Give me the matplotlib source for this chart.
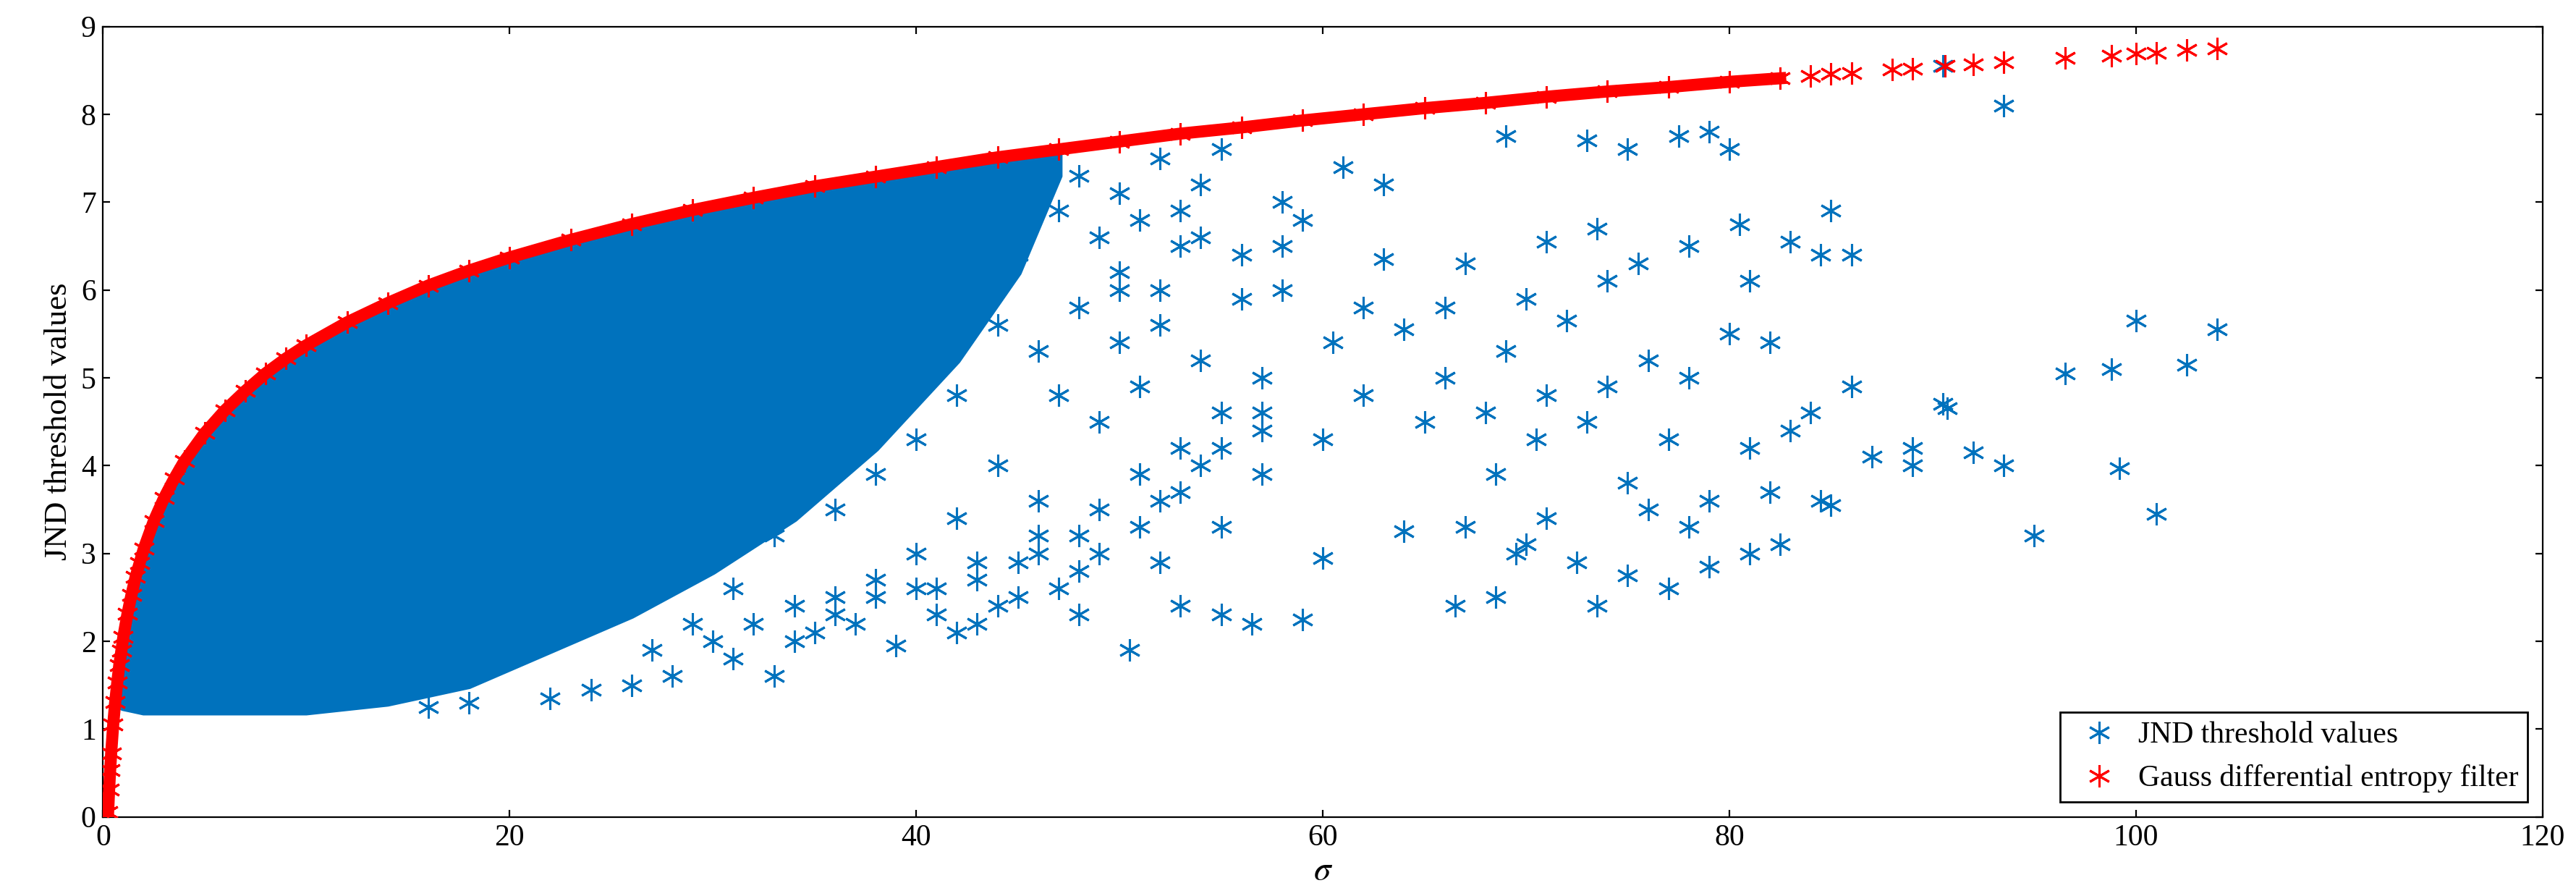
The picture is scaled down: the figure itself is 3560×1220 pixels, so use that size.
import matplotlib
matplotlib.use("Agg")
import matplotlib.pyplot as plt
import numpy as np

plt.rcParams['font.family'] = ['Liberation Serif', 'DejaVu Serif']
plt.rcParams['mathtext.fontset'] = 'stix'

# Red: Gauss differential entropy filter
red_sigma = [0.25,0.3,0.35,0.4,0.5,0.6,0.7,0.8,0.9,1.0,1.2,1.4,1.6,1.8,2.0,2.5,3,3.5,4,5,6,7,8,9,10,12,14,16,18,20,
             23,26,29,32,35,38,41,44,47,50,53,56,59,62,65,68,71,74,77,80,82.5,84,85,86,88,89,90.6,92,93.5,96.5,98.8,100,101,102.5,104]
red_y = [0.05,0.31,0.53,0.72,1.05,1.31,1.53,1.73,1.89,2.05,2.31,2.53,2.73,2.89,3.05,3.37,3.63,3.85,4.05,4.37,4.63,4.85,5.05,5.22,5.37,5.63,5.85,6.05,6.22,6.37,
         6.57,6.75,6.91,7.05,7.18,7.29,7.40,7.51,7.60,7.69,7.78,7.85,7.93,8.00,8.07,8.13,8.20,8.26,8.31,8.37,8.41,8.44,8.46,8.47,8.51,8.52,8.55,8.57,8.59,8.64,8.67,8.69,8.70,8.73,8.75]

# Blue dense (solid-looking) region: lower edge, upper edge follows red
dense_lo_sigma = [0.5,1,2,5,10,14,18,22,26,30,34,38,42,45,47]
dense_lo_y = [1.3,1.25,1.2,1.2,1.2,1.3,1.5,1.9,2.3,2.8,3.4,4.2,5.2,6.2,7.3]

# Blue sparse points
blue_sigma = [33,50.5,39,59,56.5,55,60,66.5,68.5,73.5,77,72.5,75,70,69.5,79,81,82.5,84.5,85,89,89,90.5,90.7,92,93.5,95,96.5,98.8,99.2,100,101,102.5,104,
              93.5,90.5,85,86,84.5,83,80.5,81,78,79,80,77.5,75,73,73.5,74,75.5,71,69,70,67,64,63,65,66,68,70.5,72,74,76,78,80,82,83,84,81,79,76,73,71,68.5,67,64,62,60.5,58,57,
              61,63,59,55,58,62,57,55,53,52,48,45,43,41,46,54,56,50,53,60,66,69,71,75,78,82,86,87,77,
              36,38,42,44,47,49,51,34,37,40,43,46,48,52,54,57,31,35,28,26,24,22,18,16,
              44,46,48,50,52,54,49,51,53,47,45,43,41,39,37,35,33,31,29,27,
              48,50,52,54,56,47,49,51,53,55,44,46,42,40,38,36,34,32,30,
              49,51,53,55,57,58,50,52,46,44,42,40,38,36,48,45,43,41]
blue_y = [1.6,1.9,1.95,2.25,2.2,2.3,2.95,2.4,2.5,2.4,2.6,2.9,2.75,3.1,3.0,2.85,3.0,3.1,3.6,3.55,4.0,4.2,4.7,4.65,4.15,4.0,3.2,5.05,5.1,3.97,5.65,3.45,5.15,5.55,
          8.1,8.55,6.9,6.4,6.4,6.55,6.75,6.1,6.5,7.8,7.6,7.75,7.6,7.7,6.7,6.1,6.3,6.55,7.75,5.9,6.3,5.55,6.35,4.5,5.0,4.6,4.3,5.65,4.9,5.2,5.0,5.5,5.4,4.4,4.6,4.2,3.6,3.5,4.5,3.4,3.9,3.3,3.25,4.8,5.4,6.0,4.6,
          7.4,7.2,6.8,7.6,7.0,5.8,3.9,3.3,2.4,2.9,2.3,2.5,2.2,2.3,3.0,5.2,6.4,6.0,6.9,4.3,5.8,5.3,4.8,3.8,3.3,3.7,4.9,4.1,4.3,
          2.3,2.5,2.1,2.4,2.6,3.0,3.3,2.0,2.2,2.6,2.9,3.2,2.8,3.6,4.0,4.4,1.8,2.1,1.6,1.5,1.45,1.35,1.3,1.25,
          7.2,7.4,7.3,7.1,7.5,7.2,6.6,6.8,6.5,6.9,6.4,6.0,5.6,5.0,4.4,3.8,3.2,2.6,2.2,1.9,
          5.8,5.4,6.0,6.6,5.9,4.8,4.5,4.9,4.2,4.6,4.0,3.6,3.4,3.0,2.7,2.5,2.4,2.2,2.0,
          3.5,3.9,3.7,4.2,5.0,6.5,6.2,5.6,5.3,5.6,4.8,4.3,3.9,3.5,3.2,2.9,2.7,2.6]

blue = '#0072BD'
fig = plt.figure(figsize=(17.8, 6.1), dpi=200)
ax = fig.add_axes([0.04, 0.075, 0.947, 0.895])

ls = np.array(red_sigma); ly = np.array(red_y)
up_mask = ls <= 47
poly_x = list(dense_lo_sigma) + list(ls[up_mask][::-1])
poly_y = list(dense_lo_y) + list(ly[up_mask][::-1])
ax.fill(poly_x, poly_y, color=blue, lw=4, ec=blue, zorder=1)
ax.plot(blue_sigma, blue_y, ls='none', marker=(6, 2, 0), ms=11, mew=1.1, color=blue, zorder=2,
        label='JND threshold values')
ax.plot(ls[ls <= 83], ly[ls <= 83], color='red', lw=6, zorder=3)
ax.plot(red_sigma, red_y, ls='none', marker=(6, 2, 0), ms=11, mew=1.1, color='red', zorder=4,
        label='Gauss differential entropy filter')

ax.set_xlim(0, 120)
ax.set_ylim(0, 9)
ax.set_xticks(range(0, 121, 20))
ax.set_yticks(range(0, 10))
ax.tick_params(direction='in', labelsize=15, top=True, right=True)
ax.set_xlabel(r'$\sigma$', fontsize=17, labelpad=2)
ax.set_ylabel('JND threshold values', fontsize=16)
ax.legend(loc='lower right', fontsize=15, fancybox=False, edgecolor='black', framealpha=1,
          handletextpad=0.3, borderpad=0.3, markerscale=1.0)
fig.savefig('out.png', dpi=200)
